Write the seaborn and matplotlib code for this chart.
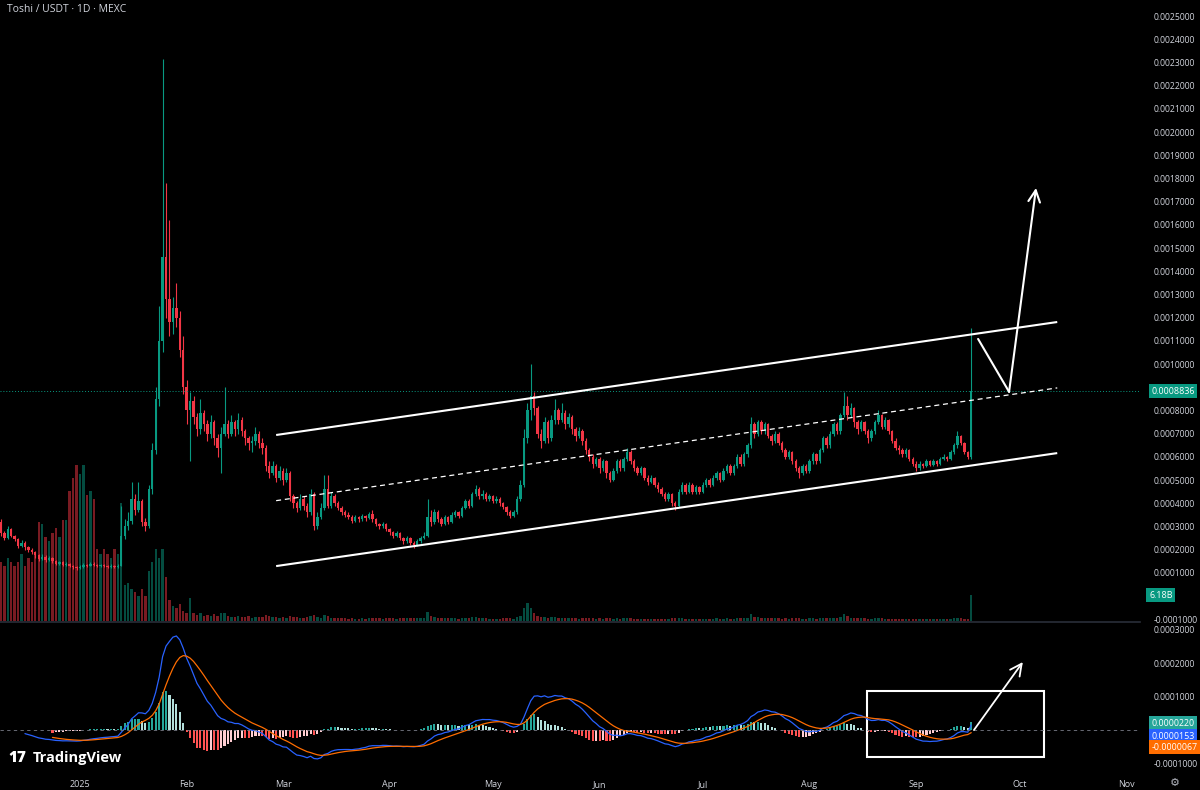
# toshi_chart.py
# Toshi / USDT daily candles with volume and MACD, TradingView dark look

import numpy as np
import pandas as pd
import seaborn as sns
import matplotlib.pyplot as plt
from matplotlib.patches import Rectangle
from matplotlib.transforms import blended_transform_factory

# ------------------ Data (prices in units of 1e-4 USDT) ------------------
start_date = "2024-12-09"
first_open = 3.20

close = [
    2.70, 2.50, 2.90, 2.60, 2.45, 2.15, 2.30, 2.10, 2.00, 1.90,
    1.75, 1.60, 1.70, 1.55, 1.65, 1.50, 1.40, 1.45, 1.35, 1.40,
    1.30, 1.25, 1.20, 1.25, 1.35, 1.30, 1.40, 1.35, 1.30, 1.35,
    1.30, 1.25, 1.30, 1.25, 1.30, 2.60, 3.00, 3.25, 4.20, 3.70,
    4.10, 3.20, 3.00, 4.60, 6.30, 8.50, 11.0, 14.6, 12.8, 11.8,
    12.4, 12.0, 10.6, 9.00, 8.00, 8.40, 7.70, 7.20, 7.90, 7.40,
    7.00, 7.50, 6.80, 6.40, 7.00, 7.40, 7.00, 7.50, 7.20, 7.60,
    7.10, 6.80, 6.60, 6.70, 7.00, 6.60, 6.40, 5.60, 5.30, 5.60,
    5.10, 5.40, 5.00, 5.30, 4.30, 4.00, 3.80, 4.20, 3.90, 3.60,
    4.40, 3.00, 3.40, 3.80, 4.60, 3.90, 4.30, 4.00, 3.80, 3.60,
    3.50, 3.40, 3.25, 3.40, 3.30, 3.45, 3.35, 3.55, 3.30, 3.10,
    3.00, 3.10, 2.90, 2.75, 2.60, 2.70, 2.50, 2.35, 2.50, 2.30,
    2.20, 2.35, 2.50, 2.60, 3.40, 3.20, 3.60, 3.30, 3.10, 3.40,
    3.20, 3.50, 3.60, 3.45, 3.80, 4.10, 3.90, 4.40, 4.60, 4.30,
    4.40, 4.20, 4.30, 4.10, 4.20, 4.00, 3.85, 3.60, 3.45, 3.60,
    4.20, 4.80, 6.80, 8.00, 8.60, 8.10, 7.00, 6.70, 7.50, 6.80,
    7.60, 8.00, 7.60, 7.90, 7.40, 7.70, 7.20, 6.90, 7.10, 6.70,
    6.30, 6.00, 5.70, 5.90, 5.50, 5.80, 5.30, 5.00, 5.40, 5.80,
    5.50, 5.90, 6.20, 5.80, 5.50, 5.30, 5.50, 5.10, 4.90, 5.10,
    4.80, 4.60, 4.40, 4.20, 4.40, 4.00, 3.90, 4.50, 4.80, 4.50,
    4.80, 4.50, 4.70, 4.50, 4.80, 5.00, 4.80, 5.10, 5.30, 5.00,
    5.40, 5.60, 5.30, 5.60, 6.00, 5.70, 6.10, 6.50, 7.40, 7.00,
    7.50, 7.10, 7.40, 6.90, 6.70, 7.00, 6.60, 6.30, 6.00, 6.20,
    5.80, 5.50, 5.30, 5.60, 5.40, 5.80, 6.10, 5.80, 6.30, 6.80,
    6.50, 7.00, 7.40, 7.10, 7.80, 8.20, 7.80, 8.10, 7.50, 7.20,
    7.50, 7.10, 6.80, 7.10, 7.50, 7.80, 7.30, 7.60, 7.10, 6.70,
    6.40, 6.30, 6.10, 6.30, 5.90, 5.70, 5.50, 5.70, 5.60, 5.80,
    5.65, 5.80, 5.70, 5.90, 6.00, 5.90, 6.20, 6.50, 6.90, 6.60,
    6.20, 6.00, 8.836,
]

high = [
    3.30, 2.80, 3.00, 2.95, 2.65, 2.50, 2.40, 2.35, 2.15, 2.05,
    1.95, 1.80, 1.80, 1.75, 1.72, 1.68, 1.55, 1.52, 1.50, 1.46,
    1.42, 1.35, 1.30, 1.32, 1.42, 1.40, 1.48, 1.45, 1.38, 1.40,
    1.38, 1.34, 1.36, 1.33, 1.36, 3.90, 3.30, 3.60, 4.90, 4.40,
    4.90, 4.20, 3.35, 4.80, 6.60, 9.00, 12.5, 23.15, 17.8, 16.2,
    12.9, 13.5, 12.3, 11.2, 9.30, 8.80, 8.60, 7.90, 8.50, 8.00,
    7.60, 7.80, 7.60, 7.00, 7.30, 9.00, 7.60, 7.80, 7.60, 7.90,
    7.70, 7.20, 6.90, 6.90, 7.30, 7.10, 6.80, 6.50, 5.80, 5.80,
    5.70, 5.60, 5.50, 5.50, 5.40, 4.40, 4.10, 4.40, 4.30, 4.00,
    4.60, 4.50, 3.60, 4.00, 5.20, 5.20, 4.50, 4.40, 4.10, 3.90,
    3.70, 3.60, 3.50, 3.50, 3.45, 3.55, 3.50, 3.60, 3.70, 3.35,
    3.15, 3.20, 3.15, 2.95, 2.80, 2.80, 2.75, 2.55, 2.60, 2.55,
    2.35, 2.45, 2.60, 2.75, 4.20, 3.70, 3.75, 3.70, 3.40, 3.50,
    3.45, 3.60, 3.70, 3.65, 3.90, 4.20, 4.20, 4.50, 4.80, 4.70,
    4.55, 4.50, 4.40, 4.35, 4.30, 4.25, 4.05, 3.90, 3.70, 3.70,
    4.30, 5.00, 7.20, 8.30, 10.0, 8.80, 8.20, 7.20, 7.70, 7.60,
    7.80, 8.50, 8.10, 8.30, 8.00, 7.90, 7.80, 7.30, 7.30, 7.20,
    6.80, 6.40, 6.10, 6.00, 6.00, 5.90, 5.85, 5.40, 5.50, 5.90,
    5.90, 6.00, 6.40, 6.30, 5.90, 5.60, 5.60, 5.55, 5.20, 5.20,
    5.15, 4.90, 4.70, 4.50, 4.50, 4.45, 4.10, 4.60, 4.90, 4.85,
    4.90, 4.85, 4.80, 4.75, 4.90, 5.10, 5.10, 5.20, 5.40, 5.35,
    5.50, 5.70, 5.70, 5.70, 6.10, 6.10, 6.20, 6.60, 7.70, 7.50,
    7.60, 7.60, 7.50, 7.45, 7.00, 7.10, 7.05, 6.70, 6.40, 6.30,
    6.25, 5.90, 5.60, 5.70, 5.70, 5.90, 6.20, 6.15, 6.40, 6.90,
    6.90, 7.10, 7.50, 7.50, 7.90, 8.80, 8.60, 8.30, 8.15, 7.60,
    7.60, 7.55, 7.20, 7.20, 7.60, 8.00, 7.85, 7.70, 7.65, 7.15,
    6.80, 6.50, 6.40, 6.40, 6.35, 6.00, 5.80, 5.80, 5.75, 5.90,
    5.85, 5.90, 5.85, 6.00, 6.10, 6.05, 6.30, 6.60, 7.10, 6.95,
    6.65, 6.25, 11.55,
]

low = [
    2.60, 2.40, 2.45, 2.55, 2.35, 2.05, 2.10, 2.00, 1.90, 1.80,
    1.65, 1.50, 1.55, 1.45, 1.50, 1.42, 1.32, 1.35, 1.28, 1.30,
    1.24, 1.18, 1.12, 1.15, 1.22, 1.25, 1.28, 1.30, 1.24, 1.26,
    1.25, 1.20, 1.22, 1.20, 1.22, 1.28, 2.45, 2.85, 3.10, 3.50,
    3.60, 3.00, 2.80, 2.95, 4.40, 6.10, 8.20, 10.5, 12.0, 11.2,
    11.3, 11.6, 10.3, 8.70, 7.40, 5.80, 7.40, 6.90, 7.00, 7.10,
    6.70, 6.80, 6.50, 6.00, 5.30, 6.90, 6.80, 6.90, 6.90, 7.00,
    6.90, 6.50, 6.30, 6.20, 6.50, 6.40, 6.10, 5.40, 5.10, 5.20,
    4.90, 5.00, 4.80, 4.90, 4.10, 3.80, 3.60, 3.70, 3.70, 3.40,
    3.50, 2.85, 2.90, 3.30, 3.70, 3.80, 3.80, 3.90, 3.70, 3.50,
    3.40, 3.30, 3.15, 3.20, 3.20, 3.25, 3.25, 3.30, 3.20, 3.00,
    2.90, 2.95, 2.80, 2.65, 2.50, 2.55, 2.40, 2.25, 2.30, 2.20,
    2.05, 2.15, 2.30, 2.45, 2.55, 3.00, 3.10, 3.20, 3.00, 3.05,
    3.10, 3.15, 3.40, 3.35, 3.40, 3.75, 3.80, 3.85, 4.30, 4.20,
    4.20, 4.10, 4.10, 4.00, 4.00, 3.90, 3.75, 3.50, 3.35, 3.40,
    3.55, 4.10, 4.70, 6.60, 7.60, 7.80, 6.80, 6.40, 6.60, 6.60,
    6.70, 7.40, 7.40, 7.50, 7.20, 7.30, 7.00, 6.70, 6.80, 6.50,
    6.10, 5.80, 5.50, 5.60, 5.30, 5.40, 5.10, 4.90, 4.95, 5.30,
    5.40, 5.40, 5.80, 5.70, 5.40, 5.20, 5.20, 5.00, 4.80, 4.85,
    4.70, 4.50, 4.30, 4.10, 4.10, 3.90, 3.70, 3.85, 4.40, 4.40,
    4.45, 4.40, 4.40, 4.40, 4.45, 4.70, 4.70, 4.75, 5.00, 4.90,
    4.95, 5.30, 5.20, 5.20, 5.50, 5.60, 5.60, 6.00, 6.40, 6.80,
    6.90, 7.00, 7.00, 6.80, 6.50, 6.60, 6.50, 6.20, 5.90, 5.90,
    5.70, 5.40, 5.10, 5.20, 5.30, 5.30, 5.70, 5.70, 5.75, 6.20,
    6.40, 6.40, 6.90, 7.00, 7.00, 7.70, 7.60, 7.70, 7.30, 7.00,
    7.10, 7.00, 6.60, 6.70, 7.00, 7.40, 7.20, 7.20, 7.00, 6.60,
    6.30, 6.10, 6.00, 6.00, 5.80, 5.60, 5.40, 5.45, 5.50, 5.55,
    5.60, 5.60, 5.60, 5.65, 5.85, 5.80, 5.85, 6.10, 6.40, 6.50,
    6.10, 5.90, 5.90,
]

# volume in billions of tokens
volume_bn = [
    14, 13, 15, 14, 13, 14, 16, 13, 15, 14,
    16, 23.6, 23, 20, 19, 21, 22, 20, 24, 24,
    31, 34, 37, 35, 37, 30, 31, 29, 17, 16,
    17, 16, 15, 17, 16, 28, 8.5, 9, 7.5, 7,
    6, 7.5, 6, 12, 14, 17, 15, 17, 10.5, 5,
    3.5, 3, 4, 2.5, 2, 5.5, 2, 1.5, 1.8, 1.2,
    1.5, 1.2, 1.6, 1.3, 1.8, 2.0, 1.1, 1.0, 0.9, 1.2,
    1.0, 0.9, 1.1, 0.8, 1.0, 0.9, 1.0, 1.4, 1.2, 0.9,
    1.0, 0.8, 0.9, 0.8, 1.3, 1.0, 0.9, 0.8, 0.8, 0.9,
    1.2, 1.4, 0.9, 0.8, 1.5, 1.2, 0.8, 0.7, 0.6, 0.6,
    0.6, 0.5, 0.6, 0.5, 0.5, 0.6, 0.5, 0.6, 0.7, 0.6,
    0.6, 0.5, 0.6, 0.6, 0.7, 0.5, 0.6, 0.7, 0.6, 0.6,
    0.7, 0.6, 0.7, 0.8, 2.2, 1.1, 0.9, 0.7, 0.6, 0.7,
    0.6, 0.7, 0.6, 0.5, 0.7, 0.8, 0.6, 0.9, 1.0, 0.7,
    0.6, 0.6, 0.5, 0.5, 0.5, 0.5, 0.6, 0.6, 0.6, 0.5,
    0.9, 1.2, 3.0, 4.3, 3.2, 1.8, 1.2, 1.0, 0.9, 0.8,
    0.9, 1.0, 0.8, 0.7, 0.7, 0.6, 0.7, 0.6, 0.5, 0.6,
    0.6, 0.6, 0.7, 0.5, 0.7, 0.5, 0.6, 0.6, 0.5, 0.6,
    0.5, 0.6, 0.7, 0.6, 0.5, 0.5, 0.4, 0.5, 0.5, 0.4,
    0.5, 0.5, 0.4, 0.5, 0.4, 0.6, 0.6, 0.8, 0.7, 0.5,
    0.5, 0.4, 0.4, 0.4, 0.5, 0.5, 0.4, 0.5, 0.6, 0.5,
    0.5, 0.6, 0.5, 0.5, 0.7, 0.6, 0.7, 0.8, 1.6, 1.0,
    0.9, 0.8, 0.7, 0.7, 0.6, 0.6, 0.6, 0.5, 0.6, 0.5,
    0.6, 0.6, 0.6, 0.5, 0.5, 0.6, 0.6, 0.5, 0.6, 0.8,
    0.6, 0.7, 0.8, 0.6, 0.9, 1.6, 1.1, 0.8, 0.7, 0.6,
    0.6, 0.6, 0.5, 0.5, 0.6, 0.7, 0.6, 0.5, 0.5, 0.5,
    0.5, 0.5, 0.4, 0.4, 0.5, 0.4, 0.5, 0.4, 0.4, 0.4,
    0.4, 0.4, 0.4, 0.4, 0.4, 0.4, 0.5, 0.6, 0.8, 0.6,
    0.5, 0.5, 6.18,
]

month_dates = ["2025-01-01", "2025-02-01", "2025-03-01", "2025-04-01", "2025-05-01", "2025-06-01",
               "2025-07-01", "2025-08-01", "2025-09-01", "2025-10-01", "2025-11-01"]
month_labels = ["2025", "Feb", "Mar", "Apr", "May", "Jun", "Jul", "Aug", "Sep", "Oct", "Nov"]
# right-hand price scale; 0.0000 and 0.0009 sit under the volume / last price labels
price_ticks = [-0.0001, 0.0001, 0.0002, 0.0003, 0.0004, 0.0005, 0.0006, 0.0007, 0.0008,
               0.0010, 0.0011, 0.0012, 0.0013, 0.0014, 0.0015, 0.0016, 0.0017, 0.0018,
               0.0019, 0.0020, 0.0021, 0.0022, 0.0023, 0.0024, 0.0025]
macd_ticks = [-0.0001, 0.0001, 0.0002, 0.0003]

last_price = 0.0008836
last_price_text = "0.0008836"
volume_text = "6.18B"
macd_label_texts = ["0.0000220", "0.0000153", "-0.0000067"]

# hand drawn lines (date, price)
upper_line = (["2025-02-27", "2025-10-12"], [0.000694, 0.001181])
middle_line = (["2025-02-27", "2025-10-12"], [0.000411, 0.000897])
lower_line = (["2025-02-27", "2025-10-12"], [0.000129, 0.000616])
arrow_path = (["2025-09-19", "2025-09-28", "2025-10-05 20:00"], [0.001108, 0.000880, 0.001759])
macd_box = (["2025-08-17 17:00", "2025-10-08 05:00"], [-0.0000806, 0.000116])
macd_arrow = (["2025-09-17 19:00", "2025-10-02"], [0.0, 0.000203])

BG = "#000000"
TXT = "#D1D4DC"
UP = "#089981"
DOWN = "#F23645"
BASE = pd.Timestamp("2025-01-01")


def day(s):
    return (pd.Timestamp(s) - BASE) / pd.Timedelta(days=1)


def main():
    unit = 1e-4
    dates = pd.date_range(start_date, periods=len(close), freq="D")
    x = ((dates - BASE) / pd.Timedelta(days=1)).to_numpy()
    c = np.array(close) * unit
    o = np.r_[first_open * unit, c[:-1]]
    h = np.maximum(np.array(high) * unit, np.maximum(o, c))
    l = np.minimum(np.array(low) * unit, np.minimum(o, c))
    up = c >= o
    cols = np.where(up, UP, DOWN)

    # MACD 12 / 26 / 9 from the closes
    s = pd.Series(c)
    macd = s.ewm(span=12, adjust=False).mean() - s.ewm(span=26, adjust=False).mean()
    signal = macd.ewm(span=9, adjust=False).mean()
    hist = macd - signal
    macd[:7] = np.nan
    signal[:15] = np.nan
    hist[:15] = np.nan
    prev = hist.shift(1)
    hist_cols = np.where(hist >= 0,
                         np.where(hist > prev, "#26A69A", "#B2DFDB"),
                         np.where(hist > prev, "#FFCDD2", "#FF5252"))

    sns.set_theme(style="dark", rc={"axes.facecolor": BG, "figure.facecolor": BG,
                                    "axes.edgecolor": BG, "text.color": TXT})
    plt.rcParams["font.family"] = ["Open Sans", "DejaVu Sans"]

    fig = plt.figure(figsize=(12, 7.9), dpi=100)
    main_rect = [0, 0.2139, 0.95, 0.7861]
    ax_vol = fig.add_axes(main_rect)
    ax = fig.add_axes(main_rect, sharex=ax_vol)
    ax_m = fig.add_axes([0, 0.0253, 0.95, 0.1873], sharex=ax_vol)
    ax.set_facecolor("none")
    ax_vol.set_zorder(0)
    ax.set_zorder(1)

    # ------------------ Volume ------------------
    ax_vol.bar(x, volume_bn, width=0.7, color=cols, alpha=0.5, linewidth=0)
    ax_vol.set_ylim(0, 147.6)
    ax_vol.set_yticks([])
    ax_vol.tick_params(axis="x", length=0, labelbottom=False)

    # ------------------ Candles ------------------
    ax.vlines(x, l, h, colors=cols, linewidth=0.8)
    ax.bar(x, np.maximum(np.abs(c - o), 0.000003), bottom=np.minimum(o, c),
           width=0.7, color=cols, linewidth=0)
    ax.set_ylim(-0.0001078, 0.002569)
    ax.set_xlim(-23.25, 308.05)
    ax.yaxis.tick_right()
    ax.set_yticks(price_ticks)
    ax.yaxis.set_major_formatter(plt.FuncFormatter(lambda v, p: f"{v:.7f}"))
    ax.tick_params(axis="y", colors=TXT, labelsize=6.2, length=0, pad=9.5)
    ax.tick_params(axis="x", length=0, labelbottom=False)

    # last price line and labels
    ax.axhline(last_price, color=UP, lw=0.7, ls=(0, (1, 2)))
    tr_price = blended_transform_factory(ax.transAxes, ax.transData)
    ax.text(1.01, last_price, last_price_text, transform=tr_price, ha="left", va="center",
            fontsize=6.4, color="white", clip_on=False,
            bbox=dict(boxstyle="square,pad=0.3", fc=UP, ec="none"))
    tr_vol = blended_transform_factory(ax.transAxes, ax_vol.transData)
    ax.text(1.008, 6.18, volume_text, transform=tr_vol, ha="left", va="center",
            fontsize=6.4, color="white", clip_on=False,
            bbox=dict(boxstyle="square,pad=0.3", fc=UP, ec="none"))

    # channel drawings
    for line, style in [(upper_line, "-"), (lower_line, "-"), (middle_line, (0, (4, 3)))]:
        ax.plot([day(d) for d in line[0]], line[1], color="white",
                lw=1.5 if style == "-" else 0.9, ls=style, solid_capstyle="butt")
    ax.plot([day(d) for d in arrow_path[0][:2]], arrow_path[1][:2], color="white", lw=1.5)
    ax.annotate("", xy=(day(arrow_path[0][2]), arrow_path[1][2]),
                xytext=(day(arrow_path[0][1]), arrow_path[1][1]),
                arrowprops=dict(arrowstyle="->,head_length=0.7,head_width=0.35",
                                color="white", lw=1.5, shrinkA=0, shrinkB=0))

    # ------------------ MACD ------------------
    ax_m.bar(x, hist, width=0.6, color=hist_cols, linewidth=0)
    sns.lineplot(x=x, y=macd.to_numpy(), ax=ax_m, color="#2962FF", lw=0.9)
    sns.lineplot(x=x, y=signal.to_numpy(), ax=ax_m, color="#FF6D00", lw=0.9)
    ax_m.axhline(0, color="#787B86", lw=0.6, ls=(0, (4, 4)))
    ax_m.set_ylim(-0.0001194, 0.0003224)
    ax_m.yaxis.tick_right()
    ax_m.set_yticks(macd_ticks)
    ax_m.yaxis.set_major_formatter(plt.FuncFormatter(lambda v, p: f"{v:.7f}"))
    ax_m.tick_params(axis="y", colors=TXT, labelsize=6.2, length=0, pad=9.5)
    ax_m.set_xticks([day(d) for d in month_dates])
    ax_m.set_xticklabels(month_labels)
    ax_m.tick_params(axis="x", colors=TXT, labelsize=6.5, length=0, pad=7)
    ax_m.set_xlabel("")
    ax_m.set_ylabel("")
    for sp in ax_m.spines.values():
        sp.set_visible(False)
    ax_m.spines["top"].set_visible(True)
    ax_m.spines["top"].set_color("#2A2E39")
    ax_m.spines["top"].set_linewidth(1.2)

    box_days = [day(d) for d in macd_box[0]]
    ax_m.add_patch(Rectangle((box_days[0], macd_box[1][0]), box_days[1] - box_days[0],
                             macd_box[1][1] - macd_box[1][0], fill=False, ec="white", lw=1.5))
    ax_m.annotate("", xy=(day(macd_arrow[0][1]), macd_arrow[1][1]),
                  xytext=(day(macd_arrow[0][0]), macd_arrow[1][0]),
                  arrowprops=dict(arrowstyle="->,head_length=0.7,head_width=0.35",
                                  color="white", lw=1.3, shrinkA=0, shrinkB=0))

    tr_m = blended_transform_factory(ax_m.transAxes, ax_m.transData)
    for txt, yv, fc in zip(macd_label_texts, [0.0000209, -0.0000179, -0.0000507],
                           ["#26A69A", "#2962FF", "#FF6D00"]):
        ax_m.text(1.01, yv, txt, transform=tr_m, ha="left", va="center", fontsize=6.4,
                  color="white", clip_on=False,
                  bbox=dict(boxstyle="square,pad=0.3", fc=fc, ec="none"))

    for a in (ax, ax_vol):
        for sp in a.spines.values():
            sp.set_visible(False)

    # ------------------ Header / branding ------------------
    fig.text(7 / 1200, 1 - 10 / 790, "Toshi / USDT · 1D · MEXC", fontsize=7.5,
             color=TXT, va="center", ha="left")
    fig.text(8 / 1200, 1 - 758 / 790, "17", fontsize=11, fontweight="heavy",
             color="white", va="center", ha="left")
    fig.text(33 / 1200, 1 - 758 / 790, "TradingView", fontsize=10.5, fontweight="bold",
             color="white", va="center", ha="left")
    fig.text(1175 / 1200, 1 - 783 / 790, "\u2699", fontsize=8, color="#B2B5BE",
             va="center", ha="center", family="DejaVu Sans")

    fig.savefig("out.png", dpi=100, facecolor=BG)


if __name__ == "__main__":
    main()
